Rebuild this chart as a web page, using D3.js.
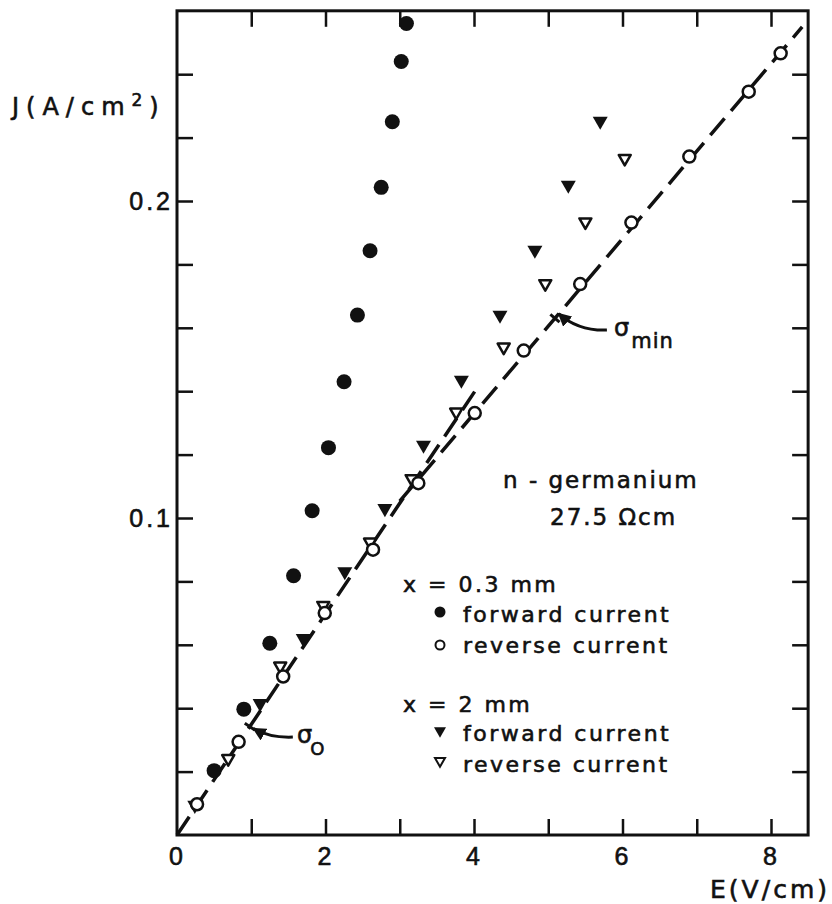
<!DOCTYPE html>
<html>
<head>
<meta charset="utf-8">
<script src="https://cdn.jsdelivr.net/npm/d3@7"></script>
<style>
  body { margin: 0; background: #fff; }
  svg { display: block; font-family: "DejaVu Sans", sans-serif; }
  svg text { stroke: #111; stroke-width: 0.6px; }
  .tick line { stroke: #111; stroke-width: 2.5; }
  .tick text { font-size: 25px; fill: #111; letter-spacing: 3px; }
</style>
</head>
<body>
<div id="app"></div>
<script>
const w = 832,
      h = 904;

// x = 0.3 mm, forward current (filled circles)
const fwd03 = [
  [0.50, 0.0203], [0.90, 0.0397], [1.25, 0.0605], [1.57, 0.0818], [1.82, 0.1023],
  [2.04, 0.1222], [2.25, 0.1430], [2.43, 0.1640], [2.60, 0.1843], [2.75, 0.2043],
  [2.90, 0.2250], [3.02, 0.2440], [3.09, 0.2560]
];
// x = 0.3 mm, reverse current (open circles)
const rev03 = [
  [0.27, 0.0097], [0.83, 0.0294], [1.43, 0.0500], [1.99, 0.0700], [2.64, 0.0900],
  [3.25, 0.1110], [4.01, 0.1331], [4.67, 0.1528], [5.43, 0.1738], [6.12, 0.1932],
  [6.90, 0.2140], [7.70, 0.2345], [8.13, 0.2466]
];
// x = 2 mm, forward current (filled triangles)
const fwd2 = [
  [0.24, 0.0089], [1.12, 0.0410], [1.70, 0.0615], [2.26, 0.0826], [2.80, 0.1025],
  [3.32, 0.1225], [3.83, 0.1430], [4.35, 0.1635], [4.82, 0.1840], [5.27, 0.2045],
  [5.70, 0.2247]
];
// x = 2 mm, reverse current (open triangles)
const rev2 = [
  [0.69, 0.0237], [1.39, 0.0529], [1.97, 0.0720], [2.60, 0.0920], [3.16, 0.1120],
  [3.76, 0.1330], [4.40, 0.1535], [4.96, 0.1735], [5.50, 0.1930], [6.03, 0.2130]
];
// dashed conductivity lines
const sigma0Line = [[0, 0], [4.07, 0.142]];
const sigmaMinLine = [[3.0, 0.1053], [8.42, 0.2549]];

const xTicks = [1, 2, 3, 4, 5, 6, 7, 8];
const xTickLabels = [0, 2, 4, 6, 8];
const yTicks = [0.02, 0.04, 0.06, 0.08, 0.1, 0.12, 0.14, 0.16, 0.18, 0.2, 0.22, 0.24];
const yTickLabels = [0.1, 0.2];

const svg = d3.select("#app")
  .append("svg")
  .attr("width", w)
  .attr("height", h);

const x = d3.scaleLinear().domain([0, 8.5]).range([177, 177 + 8.5 * 74.25]);
const y = d3.scaleLinear().domain([0, 0.26]).range([835, 835 - 0.26 * 3170]);

const x0 = x(0), x1 = x(8.5), y0 = y(0), y1 = y(0.26);

// axes, ticks pointing inward
svg.append("g")
  .attr("transform", `translate(0, ${y0})`)
  .call(d3.axisBottom(x).tickValues(xTicks).tickSizeInner(-16).tickSizeOuter(0).tickFormat(""))
  .call(g => g.select(".domain").remove());

svg.append("g")
  .attr("transform", `translate(0, ${y1})`)
  .call(d3.axisTop(x).tickValues(xTicks).tickSizeInner(-16).tickSizeOuter(0).tickFormat(""))
  .call(g => g.select(".domain").remove());

svg.append("g")
  .attr("transform", `translate(${x0}, 0)`)
  .call(d3.axisLeft(y).tickValues(yTicks).tickSizeInner(-16).tickSizeOuter(0).tickFormat(""))
  .call(g => g.select(".domain").remove());

svg.append("g")
  .attr("transform", `translate(${x1}, 0)`)
  .call(d3.axisRight(y).tickValues(yTicks).tickSizeInner(-16).tickSizeOuter(0).tickFormat(""))
  .call(g => g.select(".domain").remove());

// tick labels
svg.append("g")
  .attr("transform", `translate(0, ${y0})`)
  .call(d3.axisBottom(x).tickValues(xTickLabels).tickSize(0).tickPadding(12).tickFormat(d3.format("d")))
  .call(g => g.select(".domain").remove());

svg.append("g")
  .attr("transform", `translate(${x0}, 0)`)
  .call(d3.axisLeft(y).tickValues(yTickLabels).tickSize(0).tickPadding(4).tickFormat(d3.format(".1f")))
  .call(g => g.select(".domain").remove());

// frame
svg.append("rect")
  .attr("x", x0)
  .attr("y", y1)
  .attr("width", x1 - x0)
  .attr("height", y0 - y1)
  .attr("fill", "none")
  .attr("stroke", "#111")
  .attr("stroke-width", 3);

// axis titles
const yTitle = svg.append("text")
  .attr("x", 12)
  .attr("y", 115)
  .attr("font-size", 24)
  .attr("letter-spacing", "7px")
  .attr("fill", "#111");
yTitle.append("tspan").text("J(A/cm");
yTitle.append("tspan").attr("dy", -9).attr("font-size", 17).text("2");
yTitle.append("tspan").attr("dy", 9).text(")");

svg.append("text")
  .attr("x", 830)
  .attr("y", 898)
  .attr("text-anchor", "end")
  .attr("font-size", 25)
  .attr("letter-spacing", "3px")
  .attr("fill", "#111")
  .text("E(V/cm)");

// dashed lines
const line = d3.line().x(d => x(d[0])).y(d => y(d[1]));
[sigma0Line, sigmaMinLine].forEach(l => {
  svg.append("path")
    .attr("d", line(l))
    .attr("fill", "none")
    .attr("stroke", "#111")
    .attr("stroke-width", 3.5)
    .attr("stroke-dasharray", "22,10");
});

// small marks on the lines + arrows
svg.append("defs").append("marker")
  .attr("id", "head")
  .attr("viewBox", "0 0 10 10")
  .attr("refX", 9)
  .attr("refY", 5)
  .attr("markerWidth", 4.5)
  .attr("markerHeight", 4.5)
  .attr("orient", "auto")
  .append("path")
  .attr("d", "M0,0L10,5L0,10Z")
  .attr("fill", "#111");

function lineMark(l, e) {
  const [a, b] = l;
  const t = (e - a[0]) / (b[0] - a[0]);
  const px = x(e), py = y(a[1] + t * (b[1] - a[1]));
  const dx = x(b[0]) - x(a[0]), dy = y(b[1]) - y(a[1]);
  const len = Math.hypot(dx, dy);
  const nx = -dy / len * 6, ny = dx / len * 6;
  svg.append("line")
    .attr("x1", px - nx).attr("y1", py - ny)
    .attr("x2", px + nx).attr("y2", py + ny)
    .attr("stroke", "#111").attr("stroke-width", 3);
}
lineMark(sigma0Line, 0.98);
lineMark(sigmaMinLine, 5.09);

function arrow(tail, ctrl, tip) {
  svg.append("path")
    .attr("d", `M${x(tail[0])},${y(tail[1])}Q${x(ctrl[0])},${y(ctrl[1])} ${x(tip[0])},${y(tip[1])}`)
    .attr("fill", "none")
    .attr("stroke", "#111")
    .attr("stroke-width", 3)
    .attr("marker-end", "url(#head)");
}
arrow([1.56, 0.0309], [1.25, 0.0306], [1.03, 0.0336]);
arrow([5.79, 0.1593], [5.40, 0.1590], [5.14, 0.1645]);

// sigma labels
const s0 = svg.append("text").attr("x", 297).attr("y", 743).attr("font-size", 24).attr("fill", "#111");
s0.append("tspan").text("σ");
s0.append("tspan").attr("dy", 12).attr("dx", -2).attr("font-size", 18).text("O");

const sm = svg.append("text").attr("x", 614).attr("y", 336).attr("font-size", 24).attr("fill", "#111");
sm.append("tspan").text("σ");
sm.append("tspan").attr("dy", 12).attr("dx", 2).attr("font-size", 21).attr("letter-spacing", "1px").text("min");

// sample annotation
svg.append("text")
  .attr("x", 503).attr("y", 488)
  .attr("font-size", 23).attr("letter-spacing", "2px").attr("fill", "#111")
  .text("n - germanium");
svg.append("text")
  .attr("x", 550).attr("y", 525)
  .attr("font-size", 23).attr("letter-spacing", "2px").attr("fill", "#111")
  .text("27.5 Ωcm");

// markers
const triDown = s => `M${-s},${-s * 0.8}L${s},${-s * 0.8}L0,${s * 0.95}Z`;

svg.selectAll("circle.fwd03")
  .data(fwd03)
  .enter()
  .append("circle")
  .attr("class", "fwd03")
  .attr("cx", d => x(d[0]))
  .attr("cy", d => y(d[1]))
  .attr("r", 7.5)
  .attr("fill", "#111");

svg.selectAll("path.fwd2")
  .data(fwd2)
  .enter()
  .append("path")
  .attr("class", "fwd2")
  .attr("transform", d => `translate(${x(d[0])},${y(d[1])})`)
  .attr("d", triDown(7.5))
  .attr("fill", "#111");

svg.selectAll("path.rev2")
  .data(rev2)
  .enter()
  .append("path")
  .attr("class", "rev2")
  .attr("transform", d => `translate(${x(d[0])},${y(d[1])})`)
  .attr("d", triDown(6))
  .attr("fill", "#fff")
  .attr("stroke", "#111")
  .attr("stroke-width", 2.5)
  .attr("stroke-linejoin", "round");

svg.selectAll("circle.rev03")
  .data(rev03)
  .enter()
  .append("circle")
  .attr("class", "rev03")
  .attr("cx", d => x(d[0]))
  .attr("cy", d => y(d[1]))
  .attr("r", 6)
  .attr("fill", "#fff")
  .attr("stroke", "#111")
  .attr("stroke-width", 2.5);

// legend
const legend = svg.append("g").attr("fill", "#111").attr("font-size", 22).attr("letter-spacing", "2.5px");
legend.append("text").attr("x", 403).attr("y", 592).text("x = 0.3 mm");
legend.append("text").attr("x", 403).attr("y", 712).text("x = 2 mm");

const legendItems = [
  { y: 612, ty: 622, text: "forward current", kind: "fc" },
  { y: 645, ty: 653, text: "reverse current", kind: "oc" },
  { y: 732, ty: 741, text: "forward current", kind: "ft" },
  { y: 762, ty: 772, text: "reverse current", kind: "ot" }
];

legendItems.forEach(d => {
  if (d.kind === "fc") {
    legend.append("circle").attr("cx", 440).attr("cy", d.y).attr("r", 5.5);
  } else if (d.kind === "oc") {
    legend.append("circle").attr("cx", 440).attr("cy", d.y).attr("r", 4.5)
      .attr("fill", "#fff").attr("stroke", "#111").attr("stroke-width", 2);
  } else if (d.kind === "ft") {
    legend.append("path").attr("transform", `translate(440,${d.y})`).attr("d", triDown(6));
  } else {
    legend.append("path").attr("transform", `translate(440,${d.y})`).attr("d", triDown(5))
      .attr("fill", "#fff").attr("stroke", "#111").attr("stroke-width", 2);
  }
  legend.append("text").attr("x", 463).attr("y", d.ty).text(d.text);
});
</script>
</body>
</html>
